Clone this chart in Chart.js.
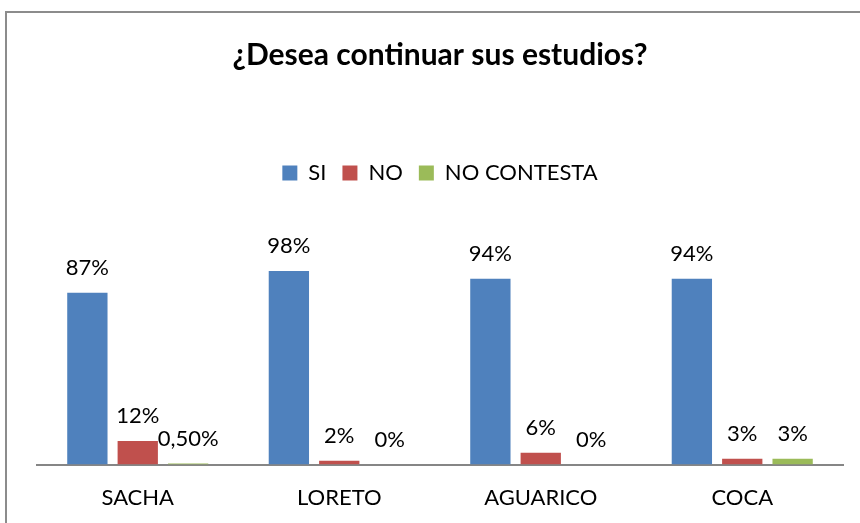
<!DOCTYPE html>
<html>
<head>
<meta charset="utf-8">
<script src="https://cdn.jsdelivr.net/npm/chart.js@4"></script>
<style>
    html, body { margin: 0; padding: 0; background: #fff; overflow: hidden; }
    #frame {
        position: absolute; left: 5px; top: 11px; width: 900px; height: 600px;
        border-top: 2px solid #8c8c8c; border-left: 2px solid #8c8c8c;
    }
    #wrap { position: absolute; left: 0; top: 0; width: 860px; height: 523px; }
</style>
</head>
<body>
<div id="frame"></div>
<div id="wrap"><canvas id="chart" width="860" height="523"></canvas></div>
<script>
// Chart data (percentages)
const categories = ['SACHA', 'LORETO', 'AGUARICO', 'COCA'];
const seriesNames = ['SI', 'NO', 'NO CONTESTA'];
const siValues = [87, 98, 94, 94];
const noValues = [12, 2, 6, 3];
const noContestaValues = [0.5, 0, 0, 3];

const FONT = 'Lato, "Open Sans", sans-serif';

function formatPercent(v) {
    return Number.isInteger(v) ? v + '%' : v.toFixed(2).replace('.', ',') + '%';
}

// draws value labels above each bar
const valueLabels = {
    id: 'valueLabels',
    afterDatasetsDraw(chart) {
        const ctx = chart.ctx;
        ctx.save();
        ctx.font = '22px ' + FONT;
        ctx.fillStyle = '#000';
        ctx.textAlign = 'center';
        ctx.textBaseline = 'middle';
        chart.data.datasets.forEach((ds, i) => {
            chart.getDatasetMeta(i).data.forEach((bar, j) => {
                ctx.fillText(formatPercent(ds.data[j]), bar.x, bar.y - 25);
            });
        });
        ctx.restore();
    }
};

// leave extra room under the legend like the original
const legendSpace = {
    id: 'legendSpace',
    beforeInit(chart) {
        const origFit = chart.legend.fit;
        chart.legend.fit = function() {
            origFit.bind(chart.legend)();
            this.height += 73;
        };
    }
};

new Chart(document.getElementById('chart'), {
    type: 'bar',
    data: {
        labels: categories,
        datasets: [
            { label: seriesNames[0], data: siValues, backgroundColor: '#4F81BD' },
            { label: seriesNames[1], data: noValues, backgroundColor: '#C0504D' },
            { label: seriesNames[2], data: noContestaValues, backgroundColor: '#9BBB59' }
        ]
    },
    options: {
        responsive: false,
        animation: false,
        devicePixelRatio: 1,
        categoryPercentage: 0.75,
        barPercentage: 0.8,
        layout: { padding: { left: 37, right: 17, top: 0, bottom: 0 } },
        plugins: {
            title: {
                display: true,
                text: '¿Desea continuar sus estudios?',
                color: '#000',
                font: { family: FONT, size: 30, weight: 'bold' },
                padding: { top: 37, bottom: 73 }
            },
            legend: {
                position: 'top',
                labels: {
                    color: '#000',
                    font: { family: FONT, size: 22 },
                    boxWidth: 15,
                    boxHeight: 15,
                    padding: 16
                }
            },
            tooltip: { enabled: false }
        },
        scales: {
            x: {
                z: 1,
                grid: { display: false },
                border: { display: true, color: '#868686', width: 2 },
                ticks: { color: '#000', font: { family: FONT, size: 22 }, padding: 12 }
            },
            y: {
                display: false,
                min: 0,
                max: 100
            }
        }
    },
    plugins: [valueLabels, legendSpace]
});
</script>
</body>
</html>
